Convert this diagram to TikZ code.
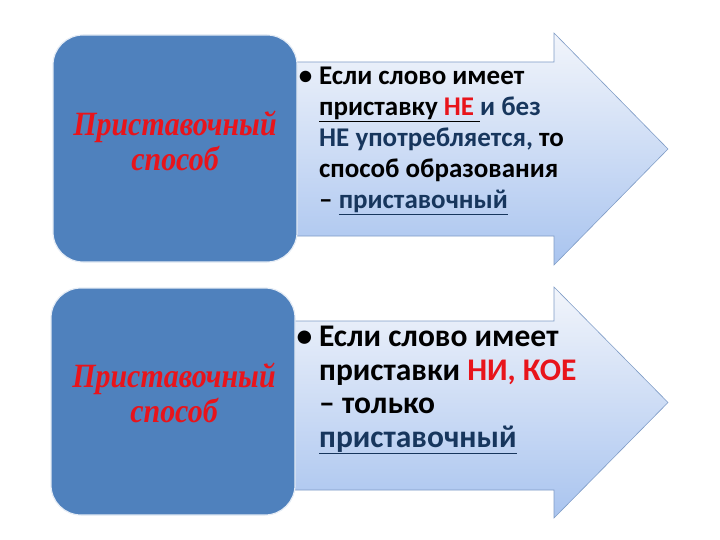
\documentclass[tikz,border=0pt]{standalone}
\usepackage{fontspec}
\usepackage{graphicx}
\setmainfont{Carlito}
\newfontfamily\scriptf{Liberation Serif}
\definecolor{boxblue}{HTML}{4F81BD}
\definecolor{navy}{HTML}{17365D}
\definecolor{arrtop}{HTML}{F2F5FB}
\definecolor{arrbot}{HTML}{A9C4EF}
\definecolor{arredge}{HTML}{7F9CC6}
\definecolor{redtxt}{HTML}{E8141B}
\newcommand{\lbltext}{\scalebox{0.88}[1]{\begin{tabular}{@{}c@{}}Приставочный\\способ\end{tabular}}}
\newcommand{\bul}{\llap{\textbullet\kern7pt}}
\tikzset{
  arrowshape/.style={draw=arredge, line width=0.6pt, top color=arrtop, bottom color=arrbot},
  leftbox/.style={draw=white!85!boxblue, line width=1.2pt, fill=boxblue, rounded corners=30pt,
    minimum width=244pt, minimum height=227pt, inner sep=0pt},
  lbl/.style={text=redtxt, inner sep=0pt, font=\scriptf\itshape\bfseries\fontsize{34}{34}\selectfont},
  bodytext/.style={align=left, anchor=north west, inner sep=0pt}
}
\begin{document}
\begin{tikzpicture}[x=1pt,y=-1pt]
\useasboundingbox (0,0) rectangle (720,540);
% arrows
\path[arrowshape] (280,62) -- (554,62) -- (554,33) -- (668,149) -- (554,265) -- (554,236) -- (280,236) -- cycle;
\path[arrowshape] (280,321) -- (554,321) -- (554,287) -- (668,402.5) -- (554,518) -- (554,490) -- (280,490) -- cycle;
% left boxes
\node[leftbox] (b1) at (175,148.5) {};
\node[leftbox] (b2) at (173,401.5) {};
\node[lbl] (l1) at (175,146) {\lbltext};
\node[lbl] (l2) at (174,398) {\lbltext};
% text 1
\node[bodytext, font=\bfseries\fontsize{27}{31}\selectfont] (t1) at (319,67) {%
\bul Если слово имеет\\
\underline{приставку \textcolor{redtxt}{НЕ} }\textcolor{navy}{и без}\\
\textcolor{navy}{НЕ употребляется,} то\\
способ образования\\
– \textcolor{navy}{\underline{приставочный}}};
% text 2
\node[bodytext, font=\bfseries\fontsize{31.5}{33.5}\selectfont] (t2) at (319,326) {%
\bul Если слово имеет\\
приставки \textcolor{redtxt}{НИ, КОЕ}\\
– только\\
\textcolor{navy}{\underline{приставочный}}};
\end{tikzpicture}
\end{document}
